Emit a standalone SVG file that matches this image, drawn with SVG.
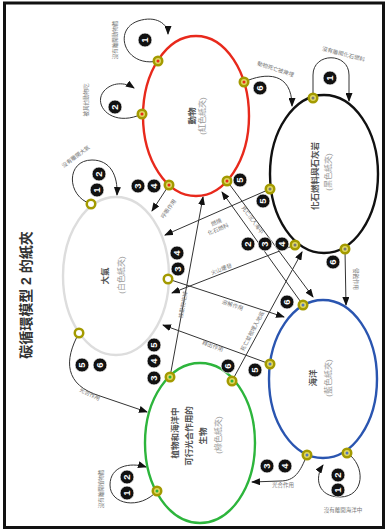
<svg xmlns="http://www.w3.org/2000/svg" width="386" height="531" viewBox="0 0 386 531">
<defs>
<marker id="ah" markerUnits="userSpaceOnUse" markerWidth="9" markerHeight="7" refX="8" refY="3.5" orient="auto"><path d="M0,0 L9,3.5 L0,7 z" fill="#111"/></marker>
</defs>
<style>
.frame{fill:#fff;stroke:#111;stroke-width:3}
.node{fill:none;stroke-width:2.4}
.c{fill:none;stroke:#333;stroke-width:1;marker-end:url(#ah)}
.nm{font-family:"Liberation Sans","Noto Sans CJK TC",sans-serif;font-size:8.5px;font-weight:bold;fill:#555;text-anchor:middle}
.pr{font-family:"Liberation Sans","Noto Sans CJK TC",sans-serif;font-size:8px;fill:#999;text-anchor:middle}
.lb{font-family:"Liberation Sans","Noto Sans CJK TC",sans-serif;font-size:5.5px;fill:#777;text-anchor:middle}
.ti{font-family:"Liberation Sans","Noto Sans CJK TC",sans-serif;font-size:14px;font-weight:bold;fill:#333;text-anchor:middle}
.nb{fill:#111;stroke:#fff;stroke-width:0.8}
.nt{font-family:"Liberation Sans","DejaVu Sans",sans-serif;font-size:9.5px;font-weight:bold;fill:#fff;text-anchor:middle}
.d1{fill:#a39a00}
.d2{fill:#e0d860}
</style>
<rect class="frame" x="4.5" y="3" width="379" height="524.5"/>
<text class="ti" transform="translate(31,295) rotate(-90)">碳循環模型 2 的紙夾</text>

<g id="connectors">
<path class="c" d="M158,61 C125,68 112,30 138,21 C156,15 168,24 168,34"/>
<path class="c" d="M142,114 C112,128 92,105 104,91 C112,82 125,82 134,88"/>
<path class="c" d="M244,82 C266,72 292,72 292,106"/>
<path class="c" d="M313,98 L313,75 C313,52 349,52 349,75 L349,101"/>
<path class="c" d="M91,204 C66,196 66,160 92,160 C110,160 118,175 117,195"/>
<path class="c" d="M169,185 L152,211"/>
<path class="c" d="M227,181 L313,297"/>
<path class="c" d="M303,305 L222,192"/>
<path class="c" d="M270,189 L165,235"/>
<path class="c" d="M295,245 L172,293"/>
<path class="c" d="M345,250 L346,305"/>
<path class="c" d="M168,279 L284,317"/>
<path class="c" d="M270,364 L163,325"/>
<path class="c" d="M170,377 L203,197"/>
<path class="c" d="M232,381 L302,252"/>
<path class="c" d="M79,333 C64,360 64,385 100,396 L147,412"/>
<path class="c" d="M157,491 C140,510 110,505 110,485 C110,466 130,462 146,467"/>
<path class="c" d="M307,455 C300,472 295,481 280,481 L252,482"/>
<path class="c" d="M347,453 C366,465 365,497 340,497 C318,497 314,478 323,465"/>
</g>

<g id="labels">
<text class="lb" transform="translate(117,40) rotate(-90)">沒有離開動物體</text>
<text class="lb" transform="translate(88,100) rotate(-90)">被其他動物吃</text>
<text class="lb" transform="translate(275,71) rotate(18)">動物死亡被掩埋</text>
<text class="lb" transform="translate(343,56) rotate(15)">沒有離開化石燃料</text>
<text class="lb" transform="translate(77,158) rotate(-37)">沒有離開大氣</text>
<text class="lb" transform="translate(170,210) rotate(-55)">呼吸作用</text>
<text class="lb" transform="translate(251,221) rotate(54)">死亡沉入海中</text>
<text class="lb" transform="translate(217,224) rotate(-23)">燃燒</text>
<text class="lb" transform="translate(219,231) rotate(-23)">化石燃料</text>
<text class="lb" transform="translate(222,271) rotate(-21)">火山爆發</text>
<text class="lb" transform="translate(354,279) rotate(90)">侵蝕作用</text>
<text class="lb" transform="translate(232,307) rotate(18)">溶解作用</text>
<text class="lb" transform="translate(212,348) rotate(20)">釋出作用</text>
<text class="lb" transform="translate(185,305) rotate(-80)">被動物吃掉</text>
<text class="lb" transform="translate(254,332) rotate(-62)">死亡並被埋入地底</text>
<text class="lb" transform="translate(89,396) rotate(25)">光合作用</text>
<text class="lb" transform="translate(103,489) rotate(-90)">沒有離開植物體</text>
<text class="lb" transform="translate(283,487)">光合作用</text>
<text class="lb" transform="translate(343,512)">沒有離開海洋中</text>
</g>

<g id="animal">
<ellipse class="node" cx="196" cy="116" rx="53" ry="80" stroke="#e8291c"/>
<text class="nm" transform="translate(195,116) rotate(-90)">動物</text>
<text class="pr" transform="translate(205,116) rotate(-90)">(紅色紙夾)</text>
</g>
<g id="fossil">
<ellipse class="node" cx="324" cy="174" rx="54" ry="79" stroke="#111"/>
<text class="nm" transform="translate(318,176) rotate(-90)">化石燃料與石灰岩</text>
<text class="pr" transform="translate(331,172) rotate(-90)">(黑色紙夾)</text>
</g>
<g id="atmosphere">
<ellipse class="node" cx="116" cy="276" rx="53" ry="79" stroke="#ddd" stroke-width="1.5"/>
<text class="nm" transform="translate(108,276) rotate(-90)">大氣</text>
<text class="pr" transform="translate(124,275) rotate(-90)">(白色紙夾)</text>
</g>
<g id="ocean">
<ellipse class="node" cx="323" cy="379" rx="54" ry="79" stroke="#2a55b0"/>
<text class="nm" transform="translate(316,378) rotate(-90)">海洋</text>
<text class="pr" transform="translate(331,378) rotate(-90)">(藍色紙夾)</text>
</g>
<g id="plants">
<ellipse class="node" cx="200" cy="443" rx="55" ry="80" stroke="#2db53c"/>
<text class="nm" transform="translate(178,433) rotate(-90)">植物和海洋中</text>
<text class="nm" transform="translate(192,436) rotate(-90)">可行光合作用的</text>
<text class="nm" transform="translate(206,436) rotate(-90)">生物</text>
<text class="pr" transform="translate(221,435) rotate(-90)">(綠色紙夾)</text>
</g>

<g id="dots">
<g fill="#e8291c">
<circle class="d1" cx="158" cy="61" r="5.5"/><circle class="d2" cx="158" cy="61" r="3"/><circle cx="158" cy="61" r="1.5"/>
<circle class="d1" cx="142" cy="114" r="5.5"/><circle class="d2" cx="142" cy="114" r="3"/><circle cx="142" cy="114" r="1.5"/>
<circle class="d1" cx="244" cy="82" r="5.5"/><circle class="d2" cx="244" cy="82" r="3"/><circle cx="244" cy="82" r="1.5"/>
<circle class="d1" cx="169" cy="185" r="5.5"/><circle class="d2" cx="169" cy="185" r="3"/><circle cx="169" cy="185" r="1.5"/>
<circle class="d1" cx="227" cy="181" r="5.5"/><circle class="d2" cx="227" cy="181" r="3"/><circle cx="227" cy="181" r="1.5"/>
</g>
<g fill="#777">
<circle class="d1" cx="313" cy="98" r="5.5"/><circle class="d2" cx="313" cy="98" r="3"/><circle cx="313" cy="98" r="1.5"/>
<circle class="d1" cx="270" cy="189" r="5.5"/><circle class="d2" cx="270" cy="189" r="3"/><circle cx="270" cy="189" r="1.5"/>
<circle class="d1" cx="295" cy="245" r="5.5"/><circle class="d2" cx="295" cy="245" r="3"/><circle cx="295" cy="245" r="1.5"/>
<circle class="d1" cx="345" cy="249" r="5.5"/><circle class="d2" cx="345" cy="249" r="3"/><circle cx="345" cy="249" r="1.5"/>
</g>
<g fill="#fff">
<circle class="d1" cx="91" cy="204" r="5.5"/><circle cx="91" cy="204" r="3"/>
<circle class="d1" cx="168" cy="279" r="5.5"/><circle cx="168" cy="279" r="3"/>
<circle class="d1" cx="79" cy="333" r="5.5"/><circle cx="79" cy="333" r="3"/>
</g>
<g fill="#5577bb">
<circle class="d1" cx="303" cy="305" r="5.5"/><circle class="d2" cx="303" cy="305" r="3"/><circle cx="303" cy="305" r="1.5"/>
<circle class="d1" cx="270" cy="364" r="5.5"/><circle class="d2" cx="270" cy="364" r="3"/><circle cx="270" cy="364" r="1.5"/>
<circle class="d1" cx="307" cy="455" r="5.5"/><circle class="d2" cx="307" cy="455" r="3"/><circle cx="307" cy="455" r="1.5"/>
<circle class="d1" cx="347" cy="453" r="5.5"/><circle class="d2" cx="347" cy="453" r="3"/><circle cx="347" cy="453" r="1.5"/>
</g>
<g fill="#2db53c">
<circle class="d1" cx="170" cy="377" r="5.5"/><circle class="d2" cx="170" cy="377" r="3"/><circle cx="170" cy="377" r="1.5"/>
<circle class="d1" cx="232" cy="381" r="5.5"/><circle class="d2" cx="232" cy="381" r="3"/><circle cx="232" cy="381" r="1.5"/>
<circle class="d1" cx="157" cy="491" r="5.5"/><circle class="d2" cx="157" cy="491" r="3"/><circle cx="157" cy="491" r="1.5"/>
</g>
</g>

<g id="numbers">
<g transform="translate(145,40)"><circle class="nb" r="7"/><text class="nt" transform="rotate(-90)" y="3.3">1</text></g>
<g transform="translate(115,107)"><circle class="nb" r="7"/><text class="nt" transform="rotate(-90)" y="3.3">2</text></g>
<g transform="translate(260,88)"><circle class="nb" r="7"/><text class="nt" transform="rotate(-90)" y="3.3">6</text></g>
<g transform="translate(330,78)"><circle class="nb" r="7"/><text class="nt" transform="rotate(-90)" y="3.3">1</text></g>
<g transform="translate(97,190)"><circle class="nb" r="7"/><text class="nt" transform="rotate(-90)" y="3.3">1</text></g>
<g transform="translate(99,174)"><circle class="nb" r="7"/><text class="nt" transform="rotate(-90)" y="3.3">2</text></g>
<g transform="translate(138,186)"><circle class="nb" r="7"/><text class="nt" transform="rotate(-90)" y="3.3">3</text></g>
<g transform="translate(154,186)"><circle class="nb" r="7"/><text class="nt" transform="rotate(-90)" y="3.3">4</text></g>
<g transform="translate(240,180)"><circle class="nb" r="7"/><text class="nt" transform="rotate(-90)" y="3.3">5</text></g>
<g transform="translate(263,201)"><circle class="nb" r="7"/><text class="nt" transform="rotate(-90)" y="3.3">5</text></g>
<g transform="translate(248,244)"><circle class="nb" r="7"/><text class="nt" transform="rotate(-90)" y="3.3">2</text></g>
<g transform="translate(265,244)"><circle class="nb" r="7"/><text class="nt" transform="rotate(-90)" y="3.3">3</text></g>
<g transform="translate(282,244)"><circle class="nb" r="7"/><text class="nt" transform="rotate(-90)" y="3.3">4</text></g>
<g transform="translate(333,262)"><circle class="nb" r="7"/><text class="nt" transform="rotate(-90)" y="3.3">6</text></g>
<g transform="translate(177,253)"><circle class="nb" r="7"/><text class="nt" transform="rotate(-90)" y="3.3">4</text></g>
<g transform="translate(178,269)"><circle class="nb" r="7"/><text class="nt" transform="rotate(-90)" y="3.3">3</text></g>
<g transform="translate(287,302)"><circle class="nb" r="7"/><text class="nt" transform="rotate(-90)" y="3.3">6</text></g>
<g transform="translate(255,370)"><circle class="nb" r="7"/><text class="nt" transform="rotate(-90)" y="3.3">5</text></g>
<g transform="translate(154,378)"><circle class="nb" r="7"/><text class="nt" transform="rotate(-90)" y="3.3">3</text></g>
<g transform="translate(154,361)"><circle class="nb" r="7"/><text class="nt" transform="rotate(-90)" y="3.3">4</text></g>
<g transform="translate(154,345)"><circle class="nb" r="7"/><text class="nt" transform="rotate(-90)" y="3.3">5</text></g>
<g transform="translate(228,366)"><circle class="nb" r="7"/><text class="nt" transform="rotate(-90)" y="3.3">6</text></g>
<g transform="translate(82,365)"><circle class="nb" r="7"/><text class="nt" transform="rotate(-90)" y="3.3">5</text></g>
<g transform="translate(100,365)"><circle class="nb" r="7"/><text class="nt" transform="rotate(-90)" y="3.3">6</text></g>
<g transform="translate(127,493)"><circle class="nb" r="7"/><text class="nt" transform="rotate(-90)" y="3.3">1</text></g>
<g transform="translate(127,477)"><circle class="nb" r="7"/><text class="nt" transform="rotate(-90)" y="3.3">2</text></g>
<g transform="translate(267,466)"><circle class="nb" r="7"/><text class="nt" transform="rotate(-90)" y="3.3">3</text></g>
<g transform="translate(285,466)"><circle class="nb" r="7"/><text class="nt" transform="rotate(-90)" y="3.3">4</text></g>
<g transform="translate(338,490)"><circle class="nb" r="7"/><text class="nt" transform="rotate(-90)" y="3.3">1</text></g>
<g transform="translate(338,475)"><circle class="nb" r="7"/><text class="nt" transform="rotate(-90)" y="3.3">2</text></g>
</g>
</svg>
